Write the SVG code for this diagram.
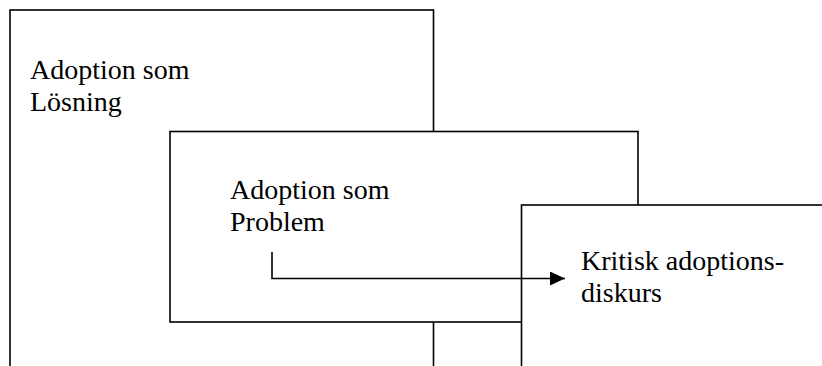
<svg xmlns="http://www.w3.org/2000/svg" width="822" height="366" viewBox="0 0 822 366">
<style>
.box{fill:#fff;stroke:#000;stroke-width:1.6}
.lbl{font-family:"Liberation Serif","Times New Roman",serif;font-size:28px;fill:#000}
.conn{fill:none;stroke:#000;stroke-width:1.6}
</style>
<defs>
<marker id="arr" markerWidth="15" markerHeight="14" refX="15" refY="7" orient="auto" markerUnits="userSpaceOnUse">
<path d="M0,0 L15,7 L0,14 Z" fill="#000"/>
</marker>
</defs>
<rect width="822" height="366" fill="#fff"/>
<g id="node-losning">
<rect class="box" x="10" y="10" width="423.5" height="420"/>
<text class="lbl" x="30" y="79">Adoption som</text>
<text class="lbl" x="30" y="111">Lösning</text>
</g>
<g id="node-problem">
<rect class="box" x="170" y="131.5" width="468" height="190.5"/>
<text class="lbl" x="230" y="199">Adoption som</text>
<text class="lbl" x="230" y="231">Problem</text>
</g>
<g id="node-kritisk">
<rect class="box" x="521.5" y="205" width="400" height="300"/>
<text class="lbl" x="581" y="270">Kritisk adoptions-</text>
<text class="lbl" x="581" y="302">diskurs</text>
</g>
<g id="connectors">
<path class="conn" d="M272,252 V278.5 H565" marker-end="url(#arr)"/>
</g>
</svg>
